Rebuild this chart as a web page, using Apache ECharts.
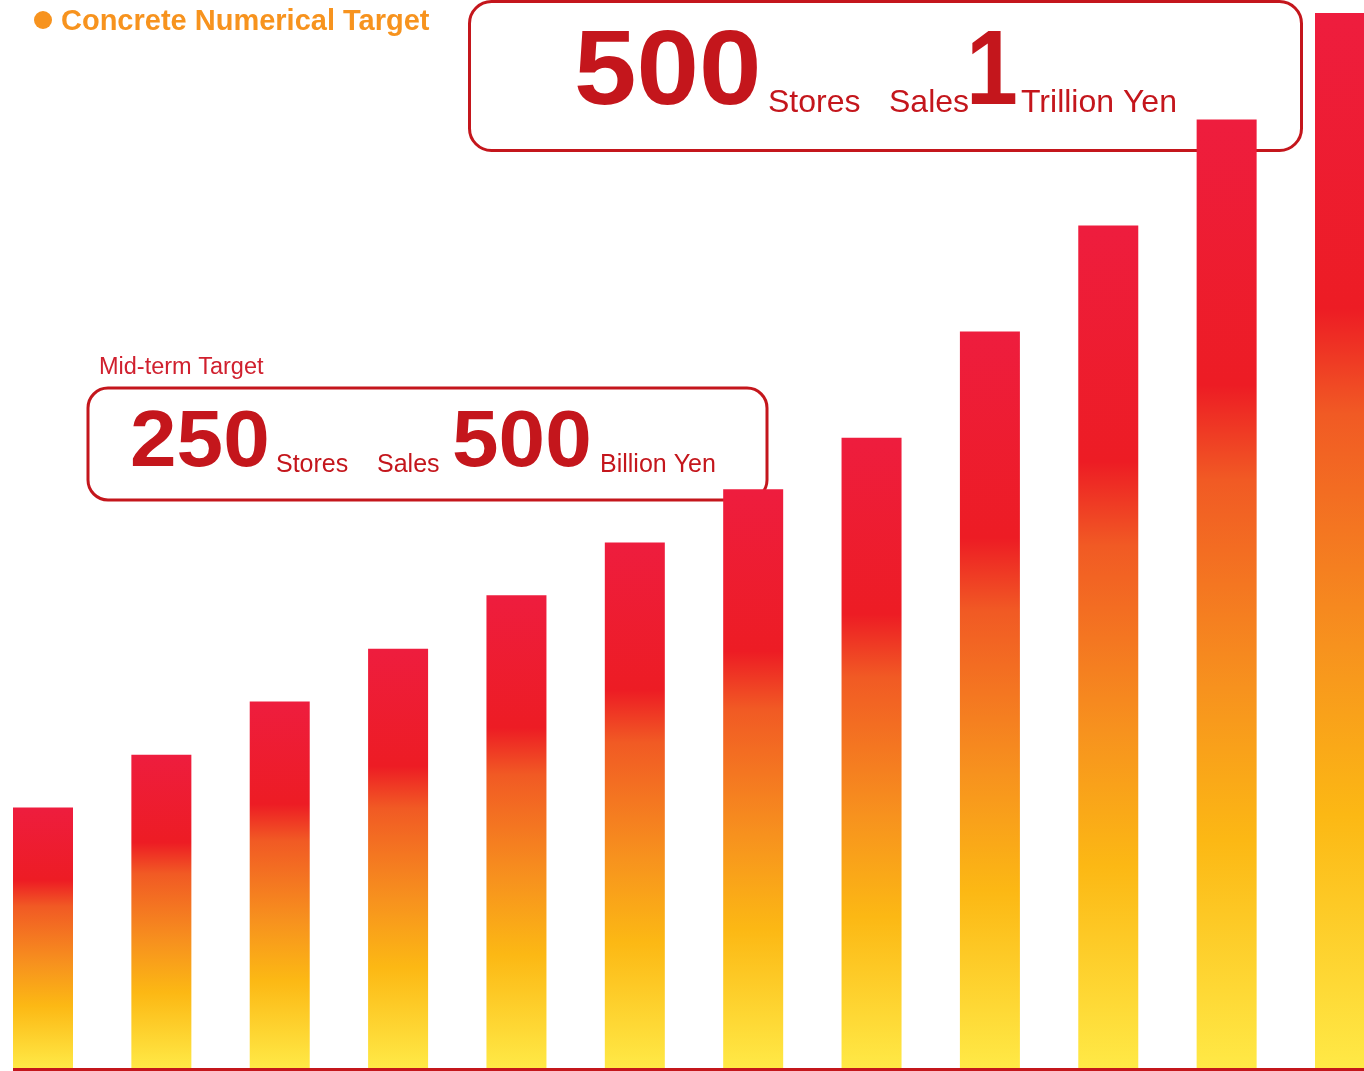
<!DOCTYPE html>
<html>
<head>
<meta charset="utf-8">
<script src="https://cdn.jsdelivr.net/npm/echarts@6/dist/echarts.min.js"></script>
<style>
  html, body { margin: 0; padding: 0; background: #fff; }
  #chart { width: 1364px; height: 1071px; }
</style>
</head>
<body>
<div id="chart"></div>
<script>
// step values (arbitrary units, last bar = 20)
const steps = ['1', '2', '3', '4', '5', '6', '7', '8', '9', '10', '11', '12'];
const values = [4.94, 5.94, 6.95, 7.95, 8.96, 9.96, 10.97, 11.95, 13.96, 15.97, 17.98, 20];

const RED = '#C4161C';
const FONT = '"Liberation Sans", Arial, sans-serif';

const barColor = new echarts.graphic.LinearGradient(0, 0, 0, 1, [
    { offset: 0, color: '#EE1D3E' },
    { offset: 0.28, color: '#ED1C24' },
    { offset: 0.38, color: '#F15A24' },
    { offset: 0.6, color: '#F7921E' },
    { offset: 0.76, color: '#FCB814' },
    { offset: 1, color: '#FFE946' },
]);

// big bold figure, slightly widened like the original typeface
function big(x, y, text, size, sx) {
    return {
        type: 'text', z: 2, x, y, scaleX: sx || 1.06,
        style: { text, fill: RED, font: 'bold ' + size + 'px ' + FONT, textVerticalAlign: 'bottom' },
    };
}
function small(x, y, text, size) {
    return {
        type: 'text', z: 2, x, y,
        style: { text, fill: RED, font: size + 'px ' + FONT, textVerticalAlign: 'bottom' },
    };
}

const chart = echarts.init(document.getElementById('chart'));
chart.setOption({
    animation: false,
    // bars sit on the ticks; first centre at x=43, last at x=1345
    grid: { left: 43, right: 19, top: 13, bottom: 3 },
    xAxis: {
        type: 'category',
        data: steps,
        boundaryGap: false,
        axisLine: { show: false },
        axisTick: { show: false },
        axisLabel: { show: false },
    },
    yAxis: {
        type: 'value',
        min: 0,
        max: 20,
        show: false,
        splitLine: { show: false },
    },
    series: [{
        type: 'bar',
        data: values,
        barWidth: 60,
        clip: false,
        z: 5,
        itemStyle: { color: barColor },
    }],
    graphic: [
        // title
        { type: 'circle', shape: { cx: 43, cy: 20, r: 9 }, style: { fill: '#F7931E' } },
        {
            type: 'text', left: 61, top: 7,
            style: { text: 'Concrete Numerical Target', fill: '#F7931E', font: 'bold 29px ' + FONT },
        },
        // long-term target box
        {
            type: 'rect', z: 1,
            shape: { x: 469.5, y: 1.5, width: 832, height: 149, r: 22 },
            style: { fill: 'none', stroke: RED, lineWidth: 3 },
        },
        big(574, 128, '500', 106),
        small(768, 119, 'Stores', 32),
        small(889, 119, 'Sales', 32),
        big(966, 128, '1', 106, 0.88),
        small(1021, 119, 'Trillion Yen', 32),
        // mid-term target box
        {
            type: 'text', left: 99, top: 356,
            style: { text: 'Mid-term Target', fill: '#D0202E', font: '23.5px ' + FONT },
        },
        {
            type: 'rect', z: 1,
            shape: { x: 88, y: 388, width: 679, height: 112, r: 20 },
            style: { fill: 'none', stroke: RED, lineWidth: 3 },
        },
        big(130, 484, '250', 79),
        small(276, 478, 'Stores', 25),
        small(377, 478, 'Sales', 25),
        big(452, 484, '500', 79),
        small(600, 478, 'Billion Yen', 25),
        // base line
        { type: 'rect', z: 10, shape: { x: 13, y: 1068, width: 1351, height: 3 }, style: { fill: RED } },
    ],
});
</script>
</body>
</html>
